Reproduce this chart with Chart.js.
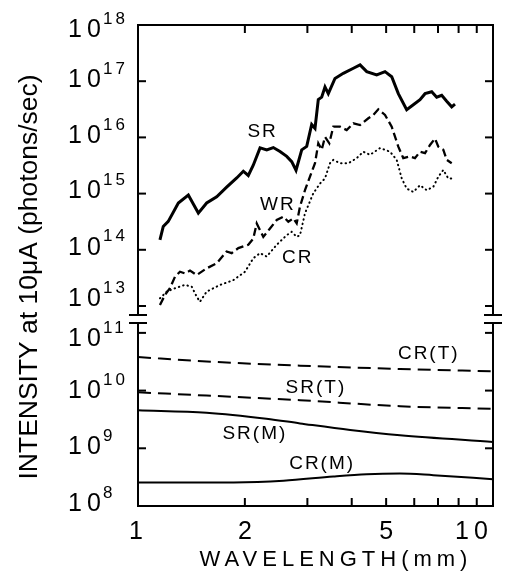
<!DOCTYPE html>
<html>
<head>
<meta charset="utf-8">
<script src="https://cdn.jsdelivr.net/npm/chart.js@4/dist/chart.umd.min.js"></script>
<style>
  html, body { margin: 0; padding: 0; background: #fff; }
  canvas { display: block; }
</style>
</head>
<body>
<canvas id="intensityChart" width="512" height="573"></canvas>
<script>
// wavelength (mm) against intensity at 10 uA (photons/sec)
const srX = [1.153, 1.178, 1.217, 1.299, 1.386, 1.479, 1.561, 1.666, 1.777, 1.897, 1.980, 2.045, 2.112, 2.207, 2.305, 2.405, 2.512, 2.624, 2.710, 2.787, 2.892, 2.987, 3.085, 3.152, 3.220, 3.292, 3.363, 3.436, 3.588, 3.787, 4.043, 4.222, 4.409, 4.703, 4.964, 5.184, 5.411, 5.713, 5.964, 6.229, 6.435, 6.720, 6.941, 7.170, 7.406, 7.650, 7.816];
const srY = [1.5e14, 2.6e14, 3.2e14, 6.8e14, 9.4e14, 4.5e14, 6.8e14, 8.8e14, 1.3e15, 1.9e15, 2.5e15, 2.1e15, 3.2e15, 6.5e15, 6.0e15, 6.6e15, 5.6e15, 4.6e15, 3.7e15, 2.6e15, 6.0e15, 6.9e15, 1.7e16, 1.45e16, 4.7e16, 5.2e16, 7.9e16, 6.0e16, 1.12e17, 1.38e17, 1.70e17, 1.95e17, 1.48e17, 1.29e17, 1.48e17, 1.20e17, 6.0e16, 3.1e16, 3.8e16, 4.7e16, 6.0e16, 6.5e16, 5.2e16, 5.6e16, 4.4e16, 3.5e16, 3.9e16];

const wrX = [1.153, 1.191, 1.230, 1.271, 1.313, 1.356, 1.401, 1.463, 1.561, 1.666, 1.777, 1.836, 1.917, 2.045, 2.112, 2.160, 2.254, 2.354, 2.459, 2.567, 2.651, 2.738, 2.799, 2.860, 2.954, 3.051, 3.152, 3.220, 3.292, 3.363, 3.458, 3.549, 3.707, 3.871, 4.043, 4.222, 4.455, 4.601, 4.753, 4.964, 5.184, 5.411, 5.588, 5.836, 6.028, 6.229, 6.435, 6.646, 6.865, 7.014, 7.244, 7.406, 7.650];
const wrY = [1.04e13, 1.57e13, 2.07e13, 3.31e13, 4.07e13, 3.80e13, 4.27e13, 3.55e13, 4.68e13, 5.75e13, 9.33e13, 8.71e13, 1.07e14, 1.23e14, 1.58e14, 2.95e14, 1.70e14, 2.40e14, 3.39e14, 3.89e14, 3.16e14, 3.63e14, 2.95e14, 5.89e14, 1.15e15, 2.00e15, 3.47e15, 7.85e15, 6.03e15, 1.02e16, 7.85e15, 1.55e16, 1.55e16, 1.35e16, 1.78e16, 1.66e16, 2.19e16, 2.51e16, 3.16e16, 2.51e16, 1.55e16, 6.84e15, 4.27e15, 4.57e15, 4.27e15, 5.56e15, 5.25e15, 7.33e15, 9.55e15, 6.84e15, 6.03e15, 3.98e15, 3.47e15];

const crX = [1.153, 1.205, 1.271, 1.356, 1.417, 1.463, 1.495, 1.561, 1.702, 1.855, 2.002, 2.112, 2.207, 2.305, 2.459, 2.624, 2.710, 2.799, 2.860, 2.954, 3.117, 3.256, 3.363, 3.474, 3.549, 3.707, 3.913, 4.131, 4.311, 4.503, 4.806, 5.128, 5.355, 5.532, 5.713, 5.964, 6.229, 6.506, 6.790, 7.014, 7.244, 7.483, 7.730];
const crY = [1.37e13, 1.80e13, 2.07e13, 2.37e13, 2.21e13, 1.47e13, 1.19e13, 1.80e13, 2.37e13, 2.88e13, 4.07e13, 7.08e13, 8.71e13, 7.59e13, 1.23e14, 1.82e14, 2.09e14, 1.70e14, 1.82e14, 4.47e14, 1.01e15, 1.51e15, 1.86e15, 3.47e15, 3.98e15, 3.47e15, 3.47e15, 4.27e15, 5.56e15, 4.90e15, 6.46e15, 5.56e15, 3.98e15, 1.86e15, 1.23e15, 1.07e15, 1.41e15, 1.15e15, 1.32e15, 2.00e15, 2.63e15, 1.86e15, 1.86e15];

// lower panel: theoretical (T) and measured (M) curves
const crtX = [1, 1.56, 2.86, 5.47, 10];
const crtY = [3.81e10, 3.20e10, 2.70e10, 2.37e10, 2.15e10];
const srtX = [1, 1.56, 2.86, 5.47, 10];
const srtY = [9.35e9, 8.20e9, 6.81e9, 5.36e9, 4.83e9];
const srmX = [1, 1.56, 2.30, 2.86, 3.96, 5.47, 10];
const srmY = [4.57e9, 4.13e9, 3.25e9, 2.70e9, 2.07e9, 1.68e9, 1.29e9];
const crmX = [1, 1.86, 2.57, 3.55, 4.41, 5.47, 6.79, 10];
const crmY = [2.56e8, 2.56e8, 2.73e8, 3.25e8, 3.56e8, 3.66e8, 3.42e8, 2.92e8];

// axes
const xMajorTicks = [1, 2, 5, 10];
const xMinorTicks = [3, 4, 6, 7, 8, 9];
const upperTicks = [1e13, 1e14, 1e15, 1e16, 1e17, 1e18];
const lowerTicks = [1e8, 1e9, 1e10, 1e11];

// curve names, placed in data units
const curveNames = ['SR', 'WR', 'CR', 'CR(T)', 'SR(T)', 'SR(M)', 'CR(M)'];
const nameX = [2.23, 2.46, 2.80, 6.55, 3.15, 2.12, 3.28];
const nameY = [1.26e16, 6.3e14, 7.1e13, 4.3e10, 1.1e10, 1.8e9, 5.4e8];
const namePanel = ['yTop', 'yTop', 'yTop', 'yBot', 'yBot', 'yBot', 'yBot'];

const FONT = '"Liberation Sans", Arial, sans-serif';
const pts = (xs, ys) => xs.map((x, i) => ({ x: x, y: ys[i] }));

const axisFrame = {
    id: 'axisFrame',
    afterDraw(chart) {
        const { ctx, chartArea: a } = chart;
        const x = chart.scales.x, yTop = chart.scales.yTop, yBot = chart.scales.yBot;
        const gap = yTop.bottom;
        ctx.save();
        ctx.strokeStyle = '#000';
        ctx.lineWidth = 2;
        const line = (x1, y1, x2, y2) => {
            ctx.beginPath(); ctx.moveTo(x1, y1); ctx.lineTo(x2, y2); ctx.stroke();
        };
        line(a.left - 1, a.top, a.right + 1, a.top);
        line(a.left - 1, a.bottom, a.right + 1, a.bottom);
        for (const sx of [a.left, a.right]) {
            line(sx, a.top, sx, gap - 4);
            line(sx, gap + 4, sx, a.bottom);
            line(sx - 9, gap - 4, sx + 9, gap - 4);
            line(sx - 9, gap + 4, sx + 9, gap + 4);
        }
        const tick = 8;
        for (const v of xMajorTicks.concat(xMinorTicks)) {
            const px = x.getPixelForValue(v);
            if (px <= a.left + 1 || px >= a.right - 1) continue;
            line(px, a.top, px, a.top + tick);
            line(px, a.bottom, px, a.bottom - tick);
        }
        const nudge = { 18: 5, 17: -1, 16: -1, 15: -2, 14: -2, 13: -7, 11: 6, 10: 1, 9: -1, 8: -2 };
        ctx.fillStyle = '#000';
        ctx.textBaseline = 'middle';
        for (const [scale, vals] of [[yTop, upperTicks], [yBot, lowerTicks]]) {
            for (const v of vals) {
                const py = scale.getPixelForValue(v);
                if (py > a.top + 1 && py < a.bottom - 1) {
                    line(a.left, py, a.left + tick, py);
                    line(a.right, py, a.right - tick, py);
                }
                const e = Math.round(Math.log10(v));
                const ly = py + (nudge[e] || 0);
                ctx.textAlign = 'left';
                ctx.font = '25px ' + FONT;
                ctx.letterSpacing = '5px';
                ctx.fillText('10', 68, ly);
                ctx.font = '17px ' + FONT;
                ctx.letterSpacing = '3px';
                ctx.fillText(String(e), 103, ly - 11);
            }
        }
        // x tick labels
        ctx.font = '25px ' + FONT;
        for (const v of xMajorTicks) {
            const px = x.getPixelForValue(v);
            if (v === 1) {
                ctx.textAlign = 'left'; ctx.letterSpacing = '0px';
                ctx.fillText('1', px - 9, 532);
            } else if (v === 10) {
                ctx.textAlign = 'left'; ctx.letterSpacing = '5px';
                ctx.fillText('10', px - 38, 532);
            } else {
                ctx.textAlign = 'center'; ctx.letterSpacing = '0px';
                ctx.fillText(String(v), px, 532);
            }
        }
        // x title
        ctx.font = '22px ' + FONT;
        ctx.letterSpacing = '5px';
        ctx.textAlign = 'center';
        ctx.fillText('WAVELENGTH(mm)', 336, 560);
        // y title
        ctx.letterSpacing = '0px';
        const yTitle = 'INTENSITY at 10\u03bcA (photons/sec)';
        ctx.font = '26px ' + FONT;
        const w = ctx.measureText(yTitle).width;
        ctx.save();
        ctx.translate(30, 277);
        ctx.rotate(-Math.PI / 2);
        ctx.scale(405 / w, 1);
        ctx.fillText(yTitle, 0, 0);
        ctx.restore();
        // curve names
        ctx.font = '19px ' + FONT;
        ctx.letterSpacing = '2px';
        curveNames.forEach((t, i) => {
            const sc = chart.scales[namePanel[i]];
            ctx.fillText(t, x.getPixelForValue(nameX[i]) + 1, sc.getPixelForValue(nameY[i]));
        });
        ctx.restore();
    }
};

const ctx = document.getElementById('intensityChart').getContext('2d');
const intensityChart = new Chart(ctx, {
    type: 'line',
    data: {
        datasets: [
            { label: 'SR', data: pts(srX, srY), yAxisID: 'yTop', borderColor: '#000', borderWidth: 3 },
            { label: 'WR', data: pts(wrX, wrY), yAxisID: 'yTop', borderColor: '#000', borderWidth: 2.3, borderDash: [8, 4] },
            { label: 'CR', data: pts(crX, crY), yAxisID: 'yTop', borderColor: '#000', borderWidth: 2, borderDash: [0.5, 4], borderCapStyle: 'round' },
            { label: 'CR(T)', data: pts(crtX, crtY), yAxisID: 'yBot', borderColor: '#000', borderWidth: 2, borderDash: [13, 7], cubicInterpolationMode: 'monotone' },
            { label: 'SR(T)', data: pts(srtX, srtY), yAxisID: 'yBot', borderColor: '#000', borderWidth: 2, borderDash: [13, 7], cubicInterpolationMode: 'monotone' },
            { label: 'SR(M)', data: pts(srmX, srmY), yAxisID: 'yBot', borderColor: '#000', borderWidth: 2, cubicInterpolationMode: 'monotone' },
            { label: 'CR(M)', data: pts(crmX, crmY), yAxisID: 'yBot', borderColor: '#000', borderWidth: 2, cubicInterpolationMode: 'monotone' }
        ]
    },
    options: {
        responsive: false,
        animation: false,
        devicePixelRatio: 1,
        layout: { padding: { left: 138, right: 19, top: 25, bottom: 67 } },
        elements: { point: { radius: 0 } },
        plugins: { legend: { display: false }, tooltip: { enabled: false } },
        scales: {
            x: { type: 'logarithmic', min: 1, max: 10, display: false },
            yTop: {
                type: 'logarithmic', position: 'left', stack: 'panels', stackWeight: 294, weight: 1,
                min: 5.87e12, max: 1e18, display: false
            },
            yBot: {
                type: 'logarithmic', position: 'left', stack: 'panels', stackWeight: 187, weight: 0,
                min: 1e8, max: 1.74e11, display: false
            }
        }
    },
    plugins: [axisFrame]
});
</script>
</body>
</html>
